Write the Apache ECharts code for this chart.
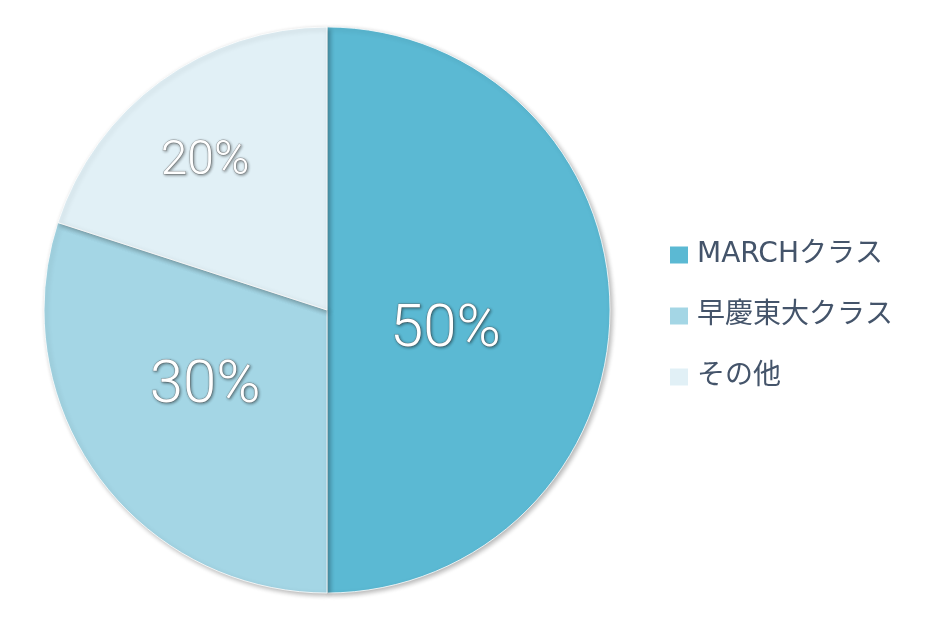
<!DOCTYPE html>
<html><head><meta charset="utf-8">
<script src="https://cdn.jsdelivr.net/npm/echarts@6/dist/echarts.min.js"></script>
<style>html,body{margin:0;padding:0;background:#fff}#c{width:930px;height:620px}</style>
</head><body><div id="c"></div>
<script>
const categories = ['MARCHクラス', '早慶東大クラス', 'その他'];
const values = [50, 30, 20];
const colors = ['#5BB9D3', '#A4D6E5', '#E1F0F6'];
const labelSizes = [60, 60, 48];
const labelShift = [[-26, 21], [-5, -8], [-37, -31]];

const chart = echarts.init(document.getElementById('c'));
chart.setOption({
  animation: false,
  legend: {
    orient: 'vertical',
    left: 663,
    top: 235,
    itemWidth: 20,
    itemHeight: 19,
    itemGap: 31,
    icon: 'rect',
    textStyle: { fontSize: 28, lineHeight: 30, color: '#44546A', fontFamily: "'DejaVu Sans', 'Noto Sans CJK JP'", padding: [0, 0, 0, 3] },
    data: categories
  },
  series: [{
    type: 'pie',
    center: [327, 310],
    radius: [0, 283],
    startAngle: 90,
    clockwise: true,
    label: {
      show: true,
      position: 'inside',
      formatter: '{c}%',
      color: '#ffffff',
      fontFamily: 'Roboto',
      fontWeight: 300,
      textBorderColor: 'rgba(110,110,110,0.55)',
      textBorderWidth: 1,
      textShadowColor: 'rgba(0,0,0,0.45)',
      textShadowBlur: 3,
      textShadowOffsetX: 1,
      textShadowOffsetY: 1
    },
    labelLayout: function (p) {
      return { dx: labelShift[p.dataIndex][0], dy: labelShift[p.dataIndex][1] };
    },
    labelLine: { show: false },
    itemStyle: {
      borderColor: '#ffffff',
      borderWidth: 0.8,
      shadowColor: 'rgba(0,0,0,0.3)',
      shadowBlur: 5,
      shadowOffsetX: 2,
      shadowOffsetY: 2
    },
    emphasis: { disabled: true },
    data: categories.map((n, i) => ({
      name: n,
      value: values[i],
      itemStyle: { color: colors[i] },
      label: { fontSize: labelSizes[i] }
    }))
  }]
});
</script></body></html>
